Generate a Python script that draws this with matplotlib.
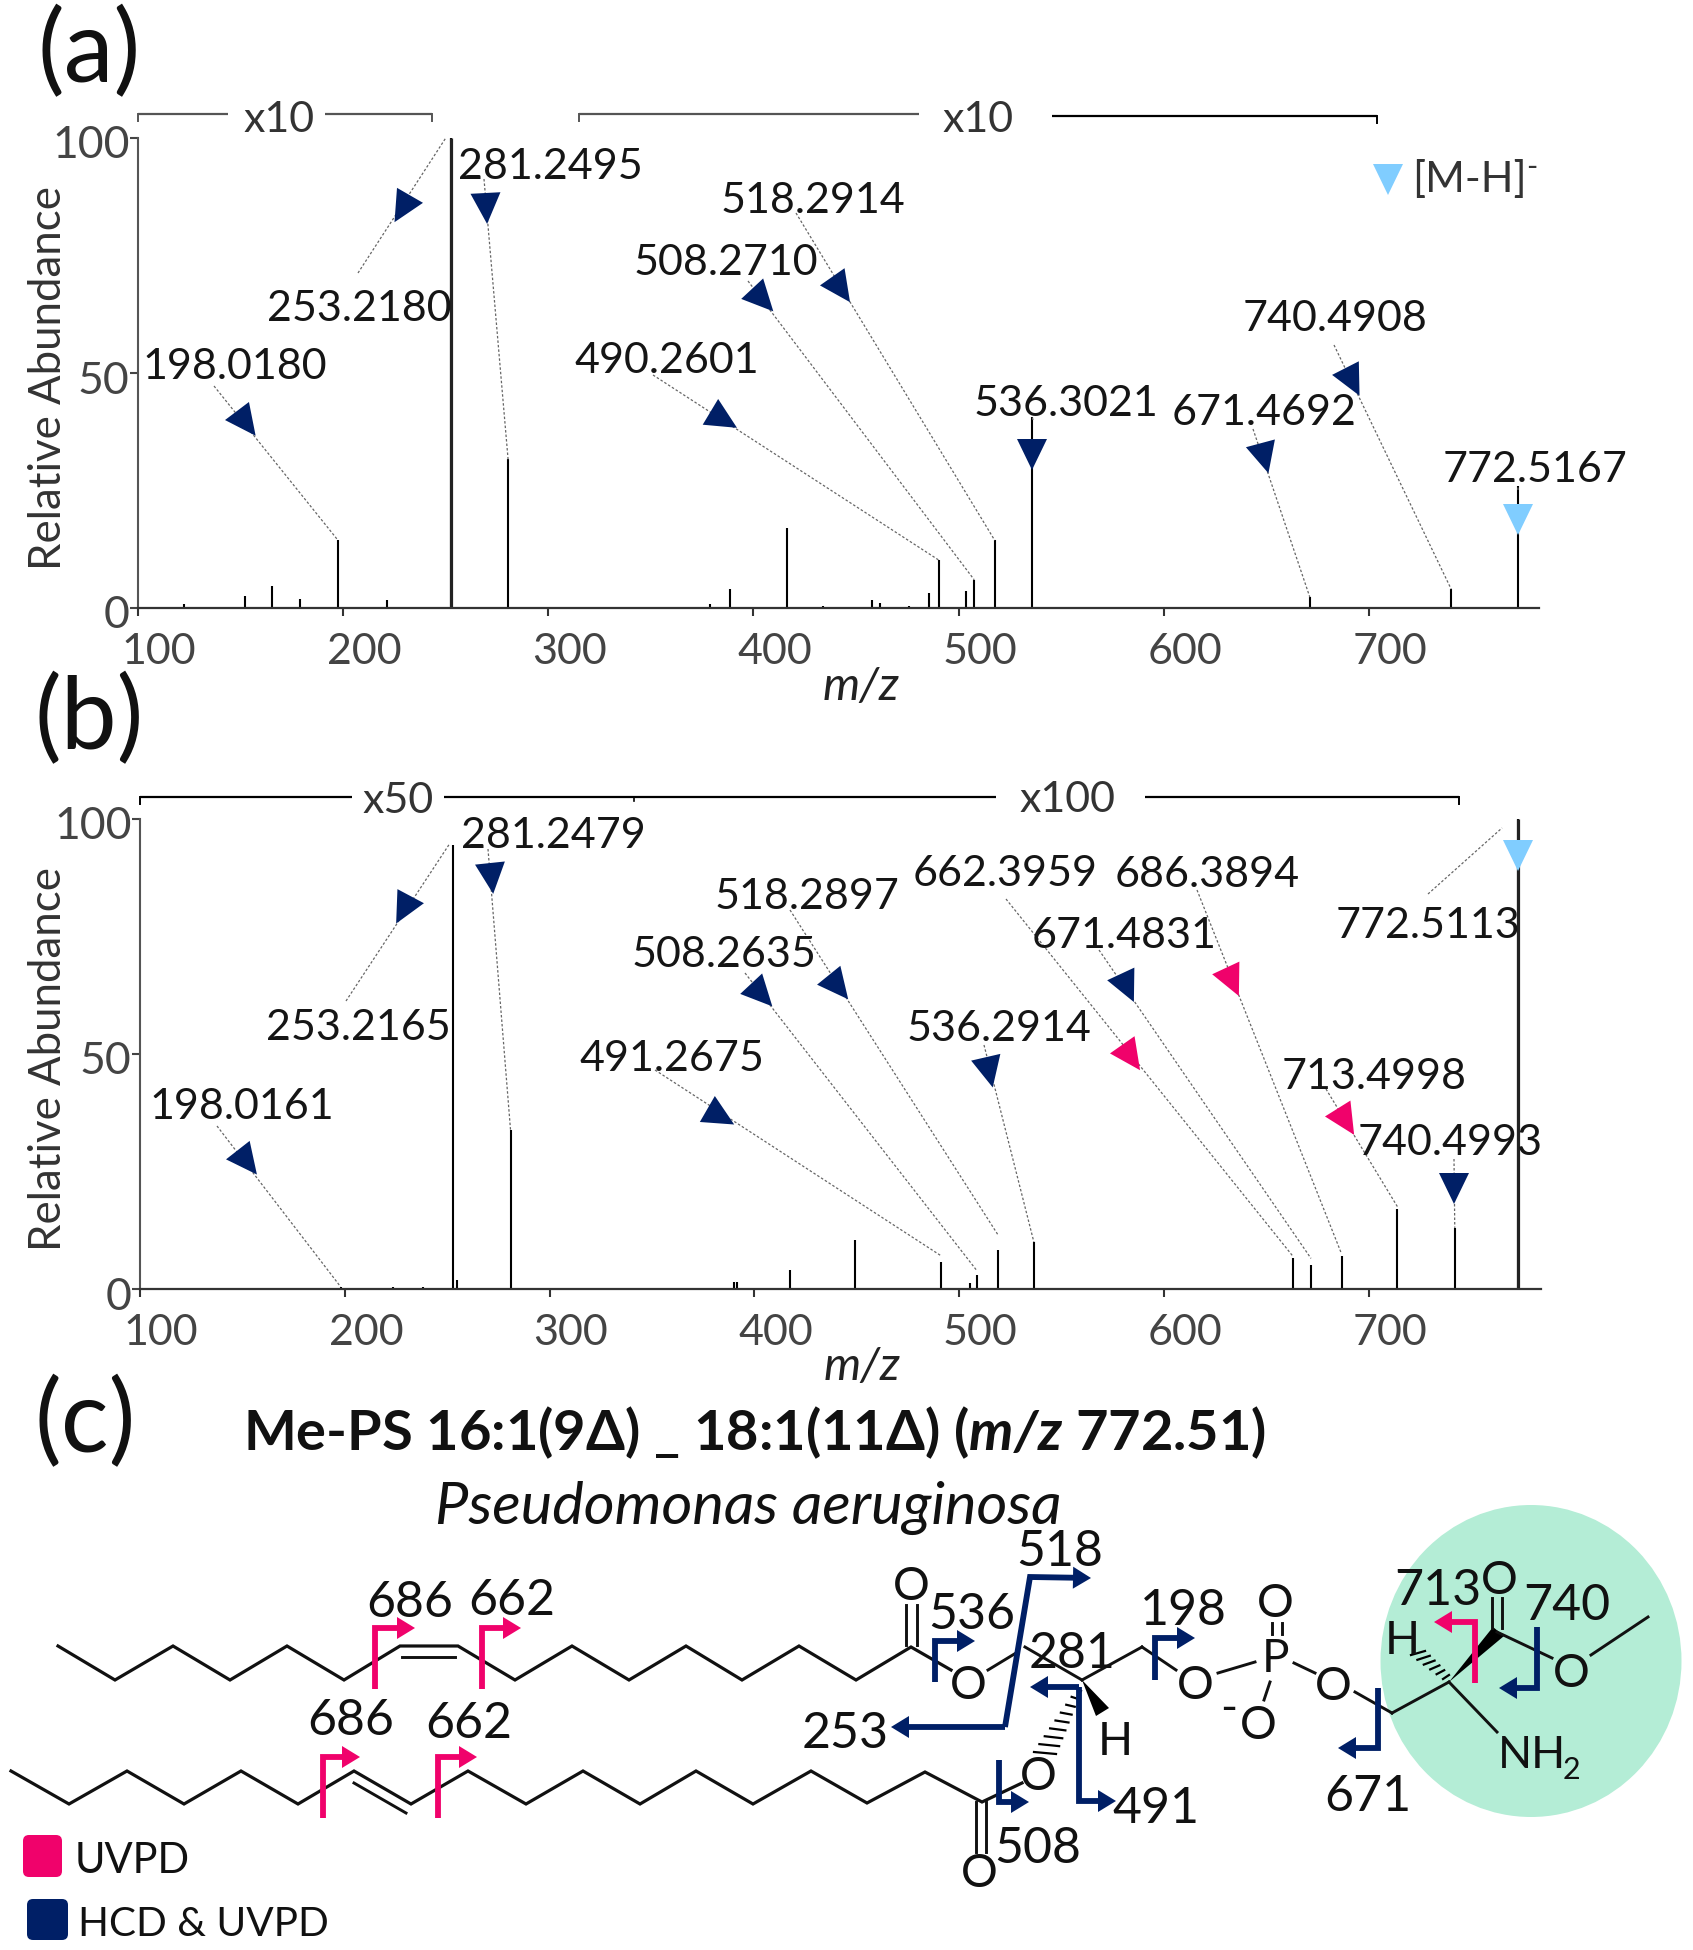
import matplotlib
matplotlib.use("Agg")
import matplotlib.pyplot as plt
import numpy as np
from matplotlib.patches import Polygon, Ellipse, FancyBboxPatch
from matplotlib.transforms import ScaledTranslation

plt.rcParams['font.family'] = ['Lato', 'DejaVu Sans']
plt.rcParams['mathtext.fontset'] = 'custom'
plt.rcParams['mathtext.rm'] = 'Lato'
plt.rcParams['mathtext.it'] = 'Lato:italic'
plt.rcParams['mathtext.bf'] = 'Lato:bold'
plt.rcParams['mathtext.bfit'] = 'Lato:italic:bold'

##### data

mz_a = [122.5, 152.3, 165.2, 179.2, 197.5, 221.5, 252.4, 280.4, 379, 388.7, 416.4, 434,
        457.8, 461.7, 475.6, 485.6, 490.3, 503.7, 507.6, 517.6, 535.9, 671.2, 740.1, 772.6]
rel_a = [0.8, 2.6, 4.6, 1.9, 14.4, 1.6, 100, 31.6, 0.8, 4.0, 17.1, 0.5,
         1.7, 1.0, 0.4, 3.2, 10.2, 3.6, 6.0, 14.4, 40.6, 2.3, 4.0, 26]

mz_b = [130, 197.9, 223.6, 238, 253, 254.6, 280.9, 390, 391.6, 417.5, 448.9, 491.3, 505,
        508.4, 518.9, 536.4, 662.8, 671.7, 686.6, 713.9, 741.9, 772.9]
rel_b = [0.2, 0.5, 0.4, 0.4, 94.4, 2, 33.8, 1.5, 1.5, 4.1, 10.4, 5.8, 1.3,
         2.9, 8.2, 10, 6.5, 5, 7.1, 17, 13, 100]

xticks = [100, 200, 300, 400, 500, 600, 700]
yticks = [0, 50, 100]

NAVY = '#001f66'
PINK = '#f0026b'
SKY = '#80cdff'

# label, label x, label y, triangle x, y, direction, colour, leader start x, y, leader end mz, rel
calls_a = [
    ('198.0180', 235, 363, 243, 419, 53, NAVY, 214, 386, 197.5, 14.4),
    ('253.2180', 359, 305, 405, 204, 120, NAVY, 358, 273, 250, 100),
    ('281.2495', 550, 163, 486, 203, 87, NAVY, 484, 179, 280.4, 31.6),
    ('518.2914', 813, 197, 838, 285, 55, NAVY, 796, 213, 517.6, 14.4),
    ('508.2710', 726, 259, 759, 296, 47, NAVY, 748, 281, 507.6, 6.0),
    ('490.2601', 667, 357, 719, 417, 31, NAVY, 653, 375, 490.3, 10.2),
    ('536.3021', 1066, 400, 1032, 449, 90, NAVY, 1033, 420, 535.9, 40.6),
    ('671.4692', 1264, 409, 1263, 453, 75, NAVY, 1253, 429, 671.2, 2.3),
    ('740.4908', 1335, 315, 1350, 377, 63, NAVY, 1334, 345, 740.1, 4.0),
    ('772.5167', 1535, 466, 1518, 514, 90, SKY, 1518, 490, 772.6, 26),
]
calls_b = [
    ('198.0161', 242, 1103, 244, 1158, 52, NAVY, 217, 1126, 197.9, 0.5),
    ('253.2165', 358, 1024, 406, 905, 118, NAVY, 346, 1001, 250.8, 94.4),
    ('281.2479', 553, 832, 491, 873, 84, NAVY, 488, 849, 280.9, 33.8),
    ('518.2897', 807, 893, 835, 983, 51, NAVY, 790, 910, 518.9, 11.5),
    ('508.2635', 724, 951, 758, 991, 47, NAVY, 745, 973, 508.4, 4),
    ('491.2675', 672, 1055, 716, 1114, 30, NAVY, 655, 1070, 491.3, 7),
    ('536.2914', 999, 1025, 988, 1067, 77, NAVY, 984, 1045, 536.4, 10),
    ('662.3959', 1005, 870, 1128, 1053, 55, PINK, 1006, 899, 662.8, 7),
    ('671.4831', 1124, 932, 1125, 983, 65, NAVY, 1099, 950, 671.7, 6.5),
    ('686.3894', 1207, 871, 1230, 977, 65, PINK, 1197, 890, 686.6, 7.5),
    ('713.4998', 1374, 1073, 1343, 1117, 58, PINK, 1326, 1089, 713.9, 17.5),
    ('740.4993', 1450, 1139, 1454, 1183, 90, NAVY, 1454, 1159, 741.9, 13),
    ('772.5113', 1428, 922, 1518, 850, 90, SKY, 1428, 894, 765, 98),
]

# (x0, x1, y) of the zoom brackets, pixels
brackets = [(138, 228, 114, '#555555', 'l'), (325, 432, 114, '#555555', 'r'),
            (579, 919, 114, '#555555', 'l'), (1052, 1377, 116, 'black', 'r'),
            (140, 352, 797, 'black', 'l'), (444, 996, 797, 'black', ''),
            (1145, 1459, 797, 'black', 'r')]
zooms = [('x10', 279, 116), ('x10', 978, 116), ('x50', 398, 797), ('x100', 1068, 796)]

chain_top = [(58, 1646), (115, 1680), (173, 1646), (230, 1680), (287, 1646), (344, 1680), (400, 1646),
             (458, 1646), (515, 1680), (572, 1646), (629, 1680), (686, 1646), (742, 1680), (799, 1646),
             (856, 1680), (911, 1647), (951, 1670)]
chain_low = [(11, 1771), (69, 1804), (127, 1771), (184, 1804), (241, 1771), (298, 1804), (354, 1771),
             (411, 1804), (468, 1771), (526, 1804), (583, 1771), (640, 1804), (696, 1771), (753, 1804),
             (811, 1771), (867, 1803), (925, 1772), (982, 1802), (1022, 1783)]
bonds = [((402, 1657), (455, 1657)), ((354, 1783), (406, 1813)),
         ((906, 1645), (906, 1605)), ((917, 1645), (917, 1605)),
         ((988, 1670), (1016, 1653)), ((1025, 1647), (1082, 1680)), ((1082, 1680), (1142, 1647)),
         ((1142, 1647), (1176, 1670)), ((1218, 1673), (1255, 1662)), ((1294, 1663), (1315, 1673)),
         ((1355, 1692), (1392, 1713)), ((1392, 1713), (1449, 1682)), ((1449, 1682), (1497, 1732)),
         ((1492, 1628), (1492, 1598)), ((1502, 1628), (1502, 1598)), ((1497, 1632), (1552, 1658)),
         ((1591, 1655), (1648, 1617)), ((1272, 1623), (1272, 1634)), ((1282, 1623), (1282, 1634)),
         ((1270, 1682), (1264, 1700)), ((976, 1802), (976, 1852)), ((986, 1802), (986, 1852))]
atoms = [('O', 911, 1583), ('O', 968, 1682), ('O', 1195, 1682), ('P', 1275, 1655), ('O', 1275, 1600),
         ('O', 1333, 1683), ('O', 1258, 1722), ('-', 1229, 1705), ('O', 1499, 1577), ('O', 1571, 1670),
         ('H', 1402, 1637), ('H', 1115, 1738), ('O', 1038, 1773), ('O', 979, 1870)]
frags = [('686', 410, 1599), ('662', 512, 1597), ('686', 351, 1717), ('662', 469, 1720),
         ('518', 1060, 1548), ('536', 972, 1611), ('281', 1072, 1650), ('198', 1183, 1607),
         ('253', 845, 1730), ('491', 1156, 1805), ('508', 1038, 1845), ('671', 1368, 1793),
         ('713', 1438, 1587), ('740', 1567, 1602)]
# bent arrows: path points, last one is the arrow tip
arrows = [([(375, 1689), (375, 1628), (415, 1628)], PINK), ([(482, 1689), (482, 1628), (521, 1628)], PINK),
          ([(323, 1818), (323, 1757), (360, 1757)], PINK), ([(438, 1818), (438, 1757), (477, 1757)], PINK),
          ([(1475, 1683), (1475, 1622), (1434, 1622)], PINK),
          ([(1005, 1727), (1030, 1577), (1091, 1578)], NAVY), ([(1005, 1727), (891, 1727)], NAVY),
          ([(935, 1682), (935, 1641), (975, 1641)], NAVY), ([(1155, 1680), (1155, 1638), (1195, 1638)], NAVY),
          ([(1079, 1687), (1030, 1687)], NAVY), ([(1079, 1687), (1079, 1801), (1116, 1801)], NAVY),
          ([(999, 1760), (999, 1802), (1029, 1802)], NAVY), ([(1378, 1688), (1378, 1748), (1338, 1748)], NAVY),
          ([(1537, 1627), (1537, 1688), (1499, 1688)], NAVY)]

##### figure

W, H = 1693, 1950
fig = plt.figure(figsize=(W / 100, H / 100), dpi=100)


def px_axes(left, right, top, bottom):
    return fig.add_axes([left / W, 1 - bottom / H, (right - left) / W, (bottom - top) / H])


def spectrum(ax, mz, rel, xmax, main):
    ax.vlines(mz, 0, rel, color='black', lw=1.5)
    ax.vlines(main, 0, [r for m, r in zip(mz, rel) if m in main], color='#222222', lw=2.3)
    ax.set_xlim(100, xmax)
    ax.set_ylim(0, 100)
    ax.set_xticks(xticks)
    ax.set_yticks(yticks)
    ax.tick_params(axis='x', length=6, width=1.5, color='#333333', labelsize=31, labelcolor='#444444', pad=12)
    ax.tick_params(axis='y', length=6, width=1.5, color='#444444', labelsize=32, labelcolor='#444444', pad=0)
    ax.spines['top'].set_visible(False)
    ax.spines['right'].set_visible(False)
    ax.spines['left'].set_linewidth(1.5)
    ax.spines['left'].set_color('#555555')
    ax.spines['bottom'].set_linewidth(1.6)
    ax.spines['bottom'].set_color('#333333')
    for lab in ax.get_xticklabels():
        lab.set_transform(lab.get_transform() + ScaledTranslation(0.21, 0, fig.dpi_scale_trans))
    for lab in ax.get_yticklabels():
        lab.set_transform(lab.get_transform() + ScaledTranslation(0, -0.04, fig.dpi_scale_trans))
    ax.patch.set_alpha(0)


ax_a = px_axes(138, 1539, 138, 608)
ax_b = px_axes(140, 1541, 818.5, 1289)
spectrum(ax_a, mz_a, rel_a, 782.9, [252.4])
spectrum(ax_b, mz_b, rel_b, 784, [772.9])

ov = fig.add_axes([0, 0, 1, 1], zorder=5)
ov.set_xlim(0, W)
ov.set_ylim(H, 0)
ov.axis('off')
ov.patch.set_alpha(0)


def to_px(ax, x, y):
    return ov.transData.inverted().transform(ax.transData.transform((x, y)))


def put(x, y, s, size, col='#111111', ha='center', **kw):
    # Lato sits a little high when centred, hence the 4 px
    kw.setdefault('zorder', 6)
    ov.text(x, y + 4, s, fontsize=size, color=col, ha=ha, va='center', **kw)


def triangle(cx, cy, ang, colour):
    t = np.radians(ang)
    d = np.array([np.cos(t), np.sin(t)])
    n = np.array([-d[1], d[0]])
    c = np.array([cx, cy])
    pts = [c + 21 * d, c - 10 * d + 15 * n, c - 10 * d - 15 * n]
    ov.add_patch(Polygon(pts, closed=True, fc=colour, ec='none', zorder=4))


def callouts(ax, calls):
    for lab, lx, ly, tx, ty, ang, col, sx, sy, em, er in calls:
        e = to_px(ax, em, er)
        ov.plot([sx, e[0]], [sy, e[1]], color='#666666', lw=0.9, ls=(0, (2, 1.6)), zorder=2)
        triangle(tx, ty, ang, col)
        put(lx, ly, lab, 31, '#151515')


callouts(ax_a, calls_a)
callouts(ax_b, calls_b)

for x0, x1, y, col, end in brackets:
    ov.plot([x0, x1], [y, y], color=col, lw=1.6, solid_capstyle='butt')
    if end == 'l':
        ov.plot([x0, x0], [y, y + 7], color=col, lw=1.4)
    if end == 'r':
        ov.plot([x1, x1], [y, y + 7], color=col, lw=1.4)
ov.plot([634, 634], [797, 801], color='black', lw=1.2)
for lab, x, y in zooms:
    put(x, y, lab, 31, '#333333')

triangle(1388, 174, 90, SKY)
put(1412, 176, '[M-H]', 31, '#333333', ha='left')
put(1526, 163, '-', 22, '#333333', ha='left')

for lab, x, y in [('(a)', 89, 49), ('(b)', 89, 716), ('(c)', 85, 1419)]:
    put(x, y, lab, 72)
for y in [374, 1055]:
    put(49, y, 'Relative Abundance', 31.5, '#333333', rotation=90)
for x, y in [(861, 683), (862, 1363)]:
    put(x, y, 'm/z', 34, '#222222', style='italic')

##### panel c, structure

ov.add_patch(Ellipse((1531, 1661), 301, 312, fc='#b4edd6', ec='none', zorder=0))
ov.text(755, 1433, r'Me-PS 16:1(9$\mathbf{\Delta}$) _ 18:1(11$\mathbf{\Delta}$) ($\mathbfit{m/z}$ 772.51)',
        fontsize=40.3, fontweight='bold', color='#111111', ha='center', va='center')
put(748, 1504, 'Pseudomonas aeruginosa', 42.8, style='italic')

ov.plot(*zip(*chain_top), color='#111111', lw=2.3, solid_joinstyle='miter')
ov.plot(*zip(*chain_low), color='#111111', lw=2.3, solid_joinstyle='miter')
for a, b in bonds:
    ov.plot(*zip(a, b), color='#111111', lw=2.1)

# wedge bonds
ov.add_patch(Polygon([(1449, 1682), (1493, 1627), (1504, 1636)], closed=True, fc='black', ec='none', zorder=1))
ov.add_patch(Polygon([(1082, 1680), (1096, 1716), (1109, 1708)], closed=True, fc='black', ec='none', zorder=1))
for f in np.linspace(0, 1, 6):
    x, y = 1446 - 28 * f, 1677 - 24 * f
    ov.plot([x - 3 - 4 * f, x + 3 + 4 * f], [y + 2, y - 2], color='black', lw=1.6, zorder=1)
for f in np.linspace(0, 1, 9):
    x, y = 1079 - 34 * f, 1690 + 63 * f
    ov.plot([x - 2 - 9 * f, x + 2 + 9 * f], [y - 1, y + 1], color='black', lw=1.6, zorder=1)

for lab, x, y in atoms:
    put(x, y, lab, 33, zorder=3)
put(1498, 1751, 'NH', 32, ha='left')
put(1563, 1766, '2', 22, ha='left')

for lab, x, y in frags:
    put(x, y, lab, 36)

for pts, col in arrows:
    xs, ys = zip(*pts)
    d = np.array(pts[-1], float) - np.array(pts[-2], float)
    d = d / np.hypot(*d)
    n = np.array([-d[1], d[0]])
    tip = np.array(pts[-1], float)
    ov.plot(list(xs[:-1]) + [tip[0] - 14 * d[0]], list(ys[:-1]) + [tip[1] - 14 * d[1]],
            color=col, lw=4.2, solid_joinstyle='miter', solid_capstyle='butt', zorder=5)
    ov.add_patch(Polygon([tip, tip - 18 * d + 11 * n, tip - 18 * d - 11 * n], closed=True, fc=col, ec='none', zorder=5))

# legend
for x0, x1, y0, y1, col in [(23, 62, 1835, 1877, PINK), (27, 68, 1899, 1940, NAVY)]:
    ov.add_patch(FancyBboxPatch((x0 + 6, y0 + 6), x1 - x0 - 12, y1 - y0 - 12, boxstyle='round,pad=6',
                                fc=col, ec='none'))
put(75, 1857, 'UVPD', 30, ha='left')
put(78, 1921, 'HCD & UVPD', 29.2, ha='left')

plt.savefig("out.png", dpi=100)
